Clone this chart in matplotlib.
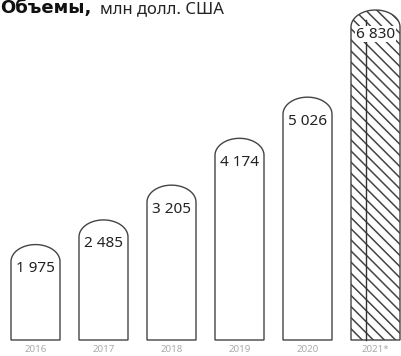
import numpy as np
import matplotlib
matplotlib.use('Agg')
import matplotlib.pyplot as plt
from matplotlib.path import Path
from matplotlib.patches import PathPatch

plt.rcParams['font.family'] = ['Noto Sans', 'DejaVu Sans']
plt.rcParams['hatch.linewidth'] = 1.1
plt.rcParams['hatch.color'] = '#333333'

years = ['2016', '2017', '2018', '2019', '2020', '2021*']
values = [1975, 2485, 3205, 4174, 5026, 6830]
labels = ['1 975', '2 485', '3 205', '4 174', '5 026', '6 830']
forecast = [False, False, False, False, False, True]

W, H = 401, 356
fig = plt.figure(figsize=(W / 100, H / 100), dpi=100)
ax = fig.add_axes([0, 0, 1, 1])
ax.axis('off')

# pixel scale: 330 px for the tallest bar, baseline 16 px from the bottom
py = 330 / max(values)
px = 68
ax.set_ylim(-16 / py, (H - 16) / py)
ax.set_xlim(-35.5 / px, (W - 35.5) / px)

bw = 49 / px
dome = 17 / py

def bar_path(xc, v):
    l, r = xc - bw / 2, xc + bw / 2
    t = np.linspace(np.pi, 0, 40)
    xs = xc + bw / 2 * np.cos(t)
    ys = (v - dome) + dome * np.sin(t)
    verts = [(l, 0), (l, v - dome)] + list(zip(xs, ys)) + [(r, 0), (l, 0)]
    codes = [Path.MOVETO] + [Path.LINETO] * (len(verts) - 2) + [Path.CLOSEPOLY]
    return Path(verts, codes)

for i, (v, lab, yr, f) in enumerate(zip(values, labels, years, forecast)):
    patch = PathPatch(bar_path(i, v), facecolor='white', edgecolor='#444444',
                      linewidth=1.0, hatch='\\\\\\' if f else None)
    ax.add_patch(patch)
    if f:
        # extra stripe inside the forecast bar
        xs = i - bw / 2 + 15 / px
        ax.plot([xs, xs], [0, v - dome * 0.6], color='#333333', lw=1.0)
    ax.text(i, v - 24 / py, lab, ha='center', va='center', fontsize=11,
            color='#222222',
            bbox=dict(facecolor='white', edgecolor='none', pad=0.3) if f else None)
    ax.text(i, -10 / py, yr, ha='center', va='center',
            fontsize=7, color='#aaaaaa')

# title
fig.text(0.0, 1 - 13 / H, 'Объемы,', fontsize=13, fontweight='bold',
         family='DejaVu Sans', color='#111111', va='baseline', ha='left')
fig.text(100 / W, 1 - 13 / H, 'млн долл. США', fontsize=12,
         color='#222222', va='baseline', ha='left')

fig.savefig('out.png', dpi=100)
